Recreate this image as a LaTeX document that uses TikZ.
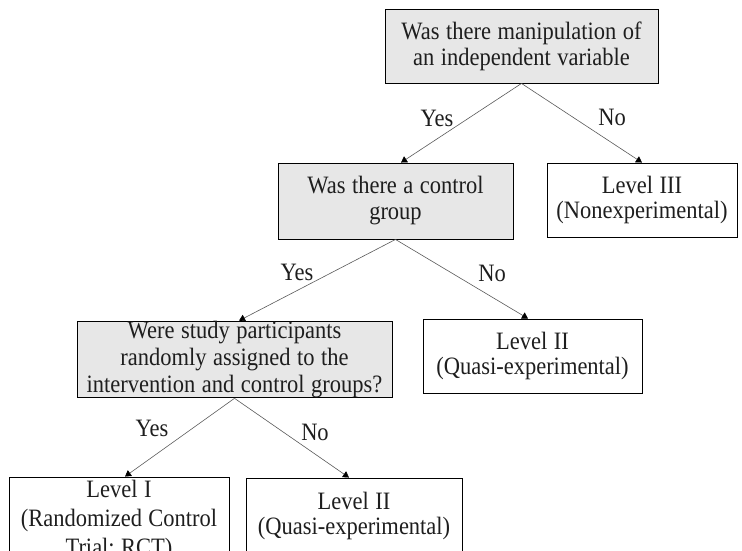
\documentclass[tikz,border=0pt]{standalone}
\usepackage{fontspec}
\setmainfont[FakeStretch=0.9,WordSpace=1.15]{Liberation Serif}
\usetikzlibrary{arrows.meta}
\definecolor{boxgray}{RGB}{231,231,231}
\definecolor{txt}{RGB}{30,30,30}
\begin{document}
\begin{tikzpicture}[x=1pt,y=-1pt,
  box/.style={draw=black, line width=0.9pt, align=center, inner sep=0pt, font=\fontsize{25}{26}\selectfont, text=txt},
  qbox/.style={box, fill=boxgray},
  lab/.style={font=\fontsize{25}{26}\selectfont, inner sep=0pt, text=txt},
  conn/.style={draw=black!65, line width=0.6pt, -{Triangle[width=7pt,length=6pt,black]}}]
\useasboundingbox (0,0) rectangle (742,550);
\clip (0,0) rectangle (742,550);
\node[qbox, minimum width=273pt, minimum height=74pt] (q1) at (521.5,46) {Was there manipulation of\\an independent variable};
\node[qbox, minimum width=235pt, minimum height=76pt] (q2) at (395.5,201) {Was there a control\\group};
\node[box, minimum width=190pt, minimum height=74pt, font=\fontsize{25}{25}\selectfont] (l3) at (642,200) {Level III\\(Nonexperimental)};
\node[qbox, minimum width=315pt, minimum height=75pt, font=\fontsize{25}{27}\selectfont] (q3) at (234.5,359.5) {Were study participants\\randomly assigned to the\\intervention and control groups?};
\node[box, minimum width=219pt, minimum height=74pt, font=\fontsize{25}{25}\selectfont] (l2a) at (532.5,356) {Level II\\(Quasi-experimental)};
\node[box, minimum width=220pt, minimum height=86pt, font=\fontsize{25}{29}\selectfont] (l1) at (119,520) {Level I\\(Randomized Control\\Trial; RCT)};
\node[box, minimum width=216pt, minimum height=75pt, font=\fontsize{25}{25}\selectfont] (l2b) at (354,515.5) {Level II\\(Quasi-experimental)};
\draw[conn] (q1.south) -- ([xshift=5.5pt]q2.north);
\draw[conn] (q1.south) -- (l3.north);
\draw[conn] (q2.south) -- ([xshift=4.5pt]q3.north);
\draw[conn] (q2.south) -- ([xshift=-4.5pt]l2a.north);
\draw[conn] (q3.south) -- ([xshift=6pt]l1.north);
\draw[conn] (q3.south) -- ([xshift=-5pt]l2b.north);
\node[lab] (y1) at (437,118) {Yes};
\node[lab] (n1) at (612,117) {No};
\node[lab] (y2) at (297,272) {Yes};
\node[lab] (n2) at (492,273) {No};
\node[lab] (y3) at (152,428) {Yes};
\node[lab] (n3) at (315,432) {No};
\end{tikzpicture}
\end{document}
